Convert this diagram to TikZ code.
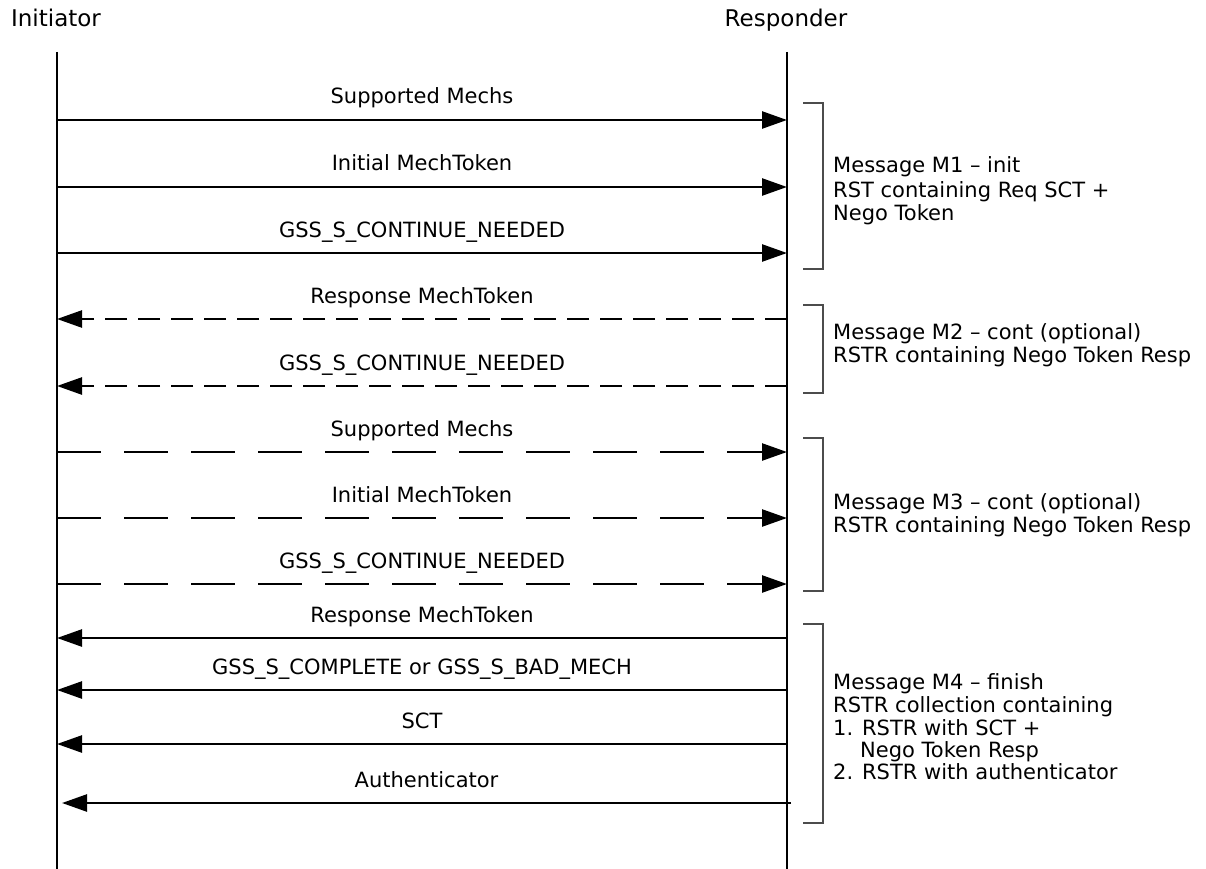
\documentclass[tikz,border=0pt]{standalone}
\usepackage{fontspec}
\setmainfont{DejaVu Sans}
\usetikzlibrary{arrows.meta}
\begin{document}
\begin{tikzpicture}[x=1pt,y=-1pt,
  txt/.style={font=\fontsize{21}{23}\selectfont, inner sep=0pt},
  head/.style={font=\fontsize{23}{25}\selectfont, inner sep=0pt, anchor=base},
  msg/.style={line width=2.5pt, -{Triangle[length=25pt,width=17pt]}},
  shortdash/.style={dash pattern=on 22pt off 11pt},
  longdash/.style={dash pattern=on 44pt off 23pt},
  life/.style={line width=2.9pt},
  brk/.style={line width=1.3pt, draw=black!70},
  note/.style={txt, anchor=base west},
  lbl/.style={txt, midway, anchor=base, yshift=16pt}]
\useasboundingbox (0,0) rectangle (1206,869);
% headers
\node[head] (init) at (56,27) {Initiator};
\node[head] (resp) at (786,27) {Responder};
% lifelines
\coordinate (itop) at (57,52); \coordinate (ibot) at (57,869);
\coordinate (rtop) at (787,52); \coordinate (rbot) at (787,869);
\draw[life] (itop) -- (ibot);
\draw[life] (rtop) -- (rbot);
% message endpoints
\foreach \n/\y in {1/120,2/187,3/253,4/319,5/386,6/452,7/518,8/584,9/638,10/690,11/744}{
  \coordinate (a\n) at (57,\y);
  \coordinate (b\n) at (787,\y);
}
\coordinate (a12) at (62,803);
\coordinate (b12) at (791,803);
% M1
\draw[msg] (a1) -- node[lbl]{Supported Mechs} (b1);
\draw[msg] (a2) -- node[lbl]{Initial MechToken} (b2);
\draw[msg] (a3) -- node[lbl]{GSS\_S\_CONTINUE\_NEEDED} (b3);
% M2
\draw[msg, shortdash] (b4) -- node[lbl]{Response MechToken} (a4);
\draw[msg, shortdash] (b5) -- node[lbl]{GSS\_S\_CONTINUE\_NEEDED} (a5);
% M3
\draw[msg, longdash] (a6) -- node[lbl]{Supported Mechs} (b6);
\draw[msg, longdash] (a7) -- node[lbl]{Initial MechToken} (b7);
\draw[msg, longdash] (a8) -- node[lbl]{GSS\_S\_CONTINUE\_NEEDED} (b8);
% M4
\draw[msg] (b9) -- node[lbl]{Response MechToken} (a9);
\draw[msg] (b10) -- node[lbl]{GSS\_S\_COMPLETE or GSS\_S\_BAD\_MECH} (a10);
\draw[msg] (b11) -- node[lbl]{SCT} (a11);
\draw[msg] (b12) -- node[lbl]{Authenticator} (a12);
% brackets
\draw[brk] (803,103) -- (823,103) -- (823,269) -- (803,269);
\draw[brk] (803,305) -- (823,305) -- (823,393) -- (803,393);
\draw[brk] (803,438) -- (823,438) -- (823,591) -- (803,591);
\draw[brk] (803,624) -- (823,624) -- (823,823) -- (803,823);
% notes
\node[note] (n1a) at (833,173) {Message M1 – init};
\node[note] (n1b) at (833,197) {RST containing Req SCT +};
\node[note] (n1c) at (833,220) {Nego Token};
\node[note] (n2a) at (833,339) {Message M2 – cont (optional)};
\node[note] (n2b) at (833,362) {RSTR containing Nego Token Resp};
\node[note] (n3a) at (833,509) {Message M3 – cont (optional)};
\node[note] (n3b) at (833,532) {RSTR containing Nego Token Resp};
\node[note] (n4a) at (833,689) {Message M4 – finish};
\node[note] (n4b) at (833,712) {RSTR collection containing};
\node[note] (n4c) at (833,735) {1. RSTR with SCT +};
\node[note] (n4d) at (860,757) {Nego Token Resp};
\node[note] (n4e) at (833,779) {2. RSTR with authenticator};
\end{tikzpicture}
\end{document}
